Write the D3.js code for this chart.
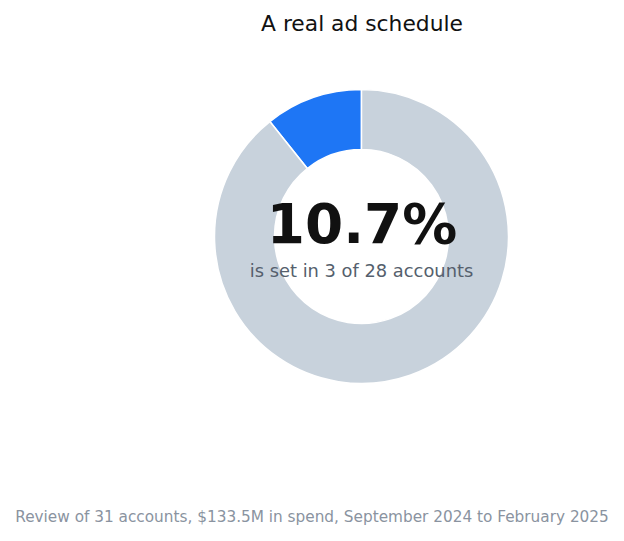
<!DOCTYPE html>
<html>
<head>
<meta charset="utf-8">
<script src="https://cdn.jsdelivr.net/npm/d3@7"></script>
<style>
  body { margin: 0; background: #fff; }
  text { font-family: "DejaVu Sans", sans-serif; }
</style>
</head>
<body>
<div id="chart"></div>
<script>
'use strict';

const categories = ['Ad schedule set', 'No ad schedule'];
const accounts   = [3, 25];
const colors     = ['#1e76f5', '#c8d2dc'];
const title      = 'A real ad schedule';
const subText    = 'is set in 3 of 28 accounts';
const footText   = 'Review of 31 accounts, $133.5M in spend, September 2024 to February 2025';

const width  = 624;
const height = 541;
const cx = 361.5, cy = 236.5;
const outerR = 147, innerR = 87;

const total = d3.sum(accounts);
const share = accounts[0] / total;

const svg = d3.select('#chart').append('svg')
    .attr('width', width)
    .attr('height', height);

svg.append('text')
    .attr('x', width / 2 + 50)
    .attr('y', 31)
    .attr('text-anchor', 'middle')
    .attr('font-size', 21.8)
    .attr('fill', '#111')
    .text(title);

// first slice runs counter-clockwise from 12 o'clock
const pie = d3.pie()
    .sort(null)
    .startAngle(0)
    .endAngle(-2 * Math.PI);

const arc = d3.arc()
    .innerRadius(innerR)
    .outerRadius(outerR);

const g = svg.append('g').attr('transform', `translate(${cx},${cy})`);

g.selectAll('path')
    .data(pie(accounts))
    .enter()
    .append('path')
    .attr('d', arc)
    .attr('fill', (d, i) => colors[i])
    .attr('stroke', '#fff')
    .attr('stroke-width', 1.5);

g.append('text')
    .attr('x', 0.5)
    .attr('y', 6.5)
    .attr('text-anchor', 'middle')
    .attr('font-size', 54.9)
    .attr('font-weight', 'bold')
    .attr('fill', '#111')
    .text(d3.format('.1%')(share));

g.append('text')
    .attr('x', 0)
    .attr('y', 40.5)
    .attr('text-anchor', 'middle')
    .attr('font-size', 17.85)
    .attr('fill', '#555f6d')
    .text(subText);

svg.append('text')
    .attr('x', width / 2)
    .attr('y', 522)
    .attr('text-anchor', 'middle')
    .attr('font-size', 15.3)
    .attr('fill', '#8a93a0')
    .text(footText);
</script>
</body>
</html>
